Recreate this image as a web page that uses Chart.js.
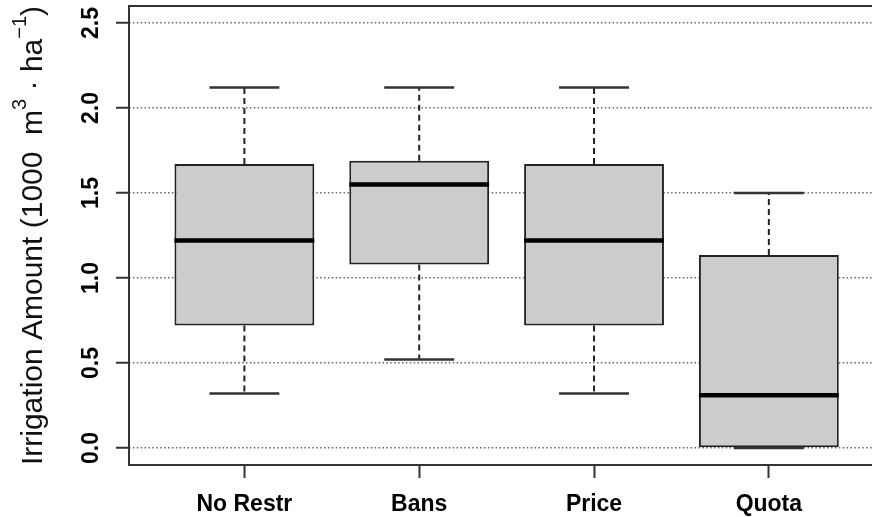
<!DOCTYPE html>
<html>
<head>
<meta charset="utf-8">
<script src="https://cdn.jsdelivr.net/npm/chart.js@4.4.1/dist/chart.umd.min.js"></script>
<style>
html, body { margin: 0; padding: 0; background: #fff; overflow: hidden; }
#wrap { width: 872px; height: 517px; }
</style>
</head>
<body>
<div id="wrap"><canvas id="boxChart" width="872" height="517"></canvas></div>
<script>
"use strict";
// box stats (1000 m3/ha)
var categories = ["No Restr", "Bans", "Price", "Quota"];
var whiskerLow = [0.32, 0.52, 0.32, 0.0];
var q1 = [0.72, 1.08, 0.72, 0.0];
var medians = [1.22, 1.55, 1.22, 0.31];
var q3 = [1.67, 1.69, 1.67, 1.135];
var whiskerHigh = [2.12, 2.12, 2.12, 1.50];
var yTicks = [0, 0.5, 1.0, 1.5, 2.0, 2.5];

Chart.defaults.font.family = '"Liberation Sans", Arial, Helvetica, sans-serif';

var boxData = categories.map(function (c, i) {
    return { x: i + 1, y: [q1[i], q3[i]] };
});

// whiskers, caps and medians on top of the floating bars
var boxExtras = {
    id: "boxExtras",
    afterDatasetsDraw: function (chart) {
        var ctx = chart.ctx;
        var yScale = chart.scales.y;
        var meta = chart.getDatasetMeta(0);
        meta.data.forEach(function (el, i) {
            var x = el.x;
            var w = el.width;
            var yMin = yScale.getPixelForValue(whiskerLow[i]);
            var yQ1 = yScale.getPixelForValue(q1[i]);
            var yMed = yScale.getPixelForValue(medians[i]);
            var yQ3 = yScale.getPixelForValue(q3[i]);
            var yMax = yScale.getPixelForValue(whiskerHigh[i]);
            ctx.save();
            ctx.strokeStyle = "#222";
            ctx.lineWidth = 2;
            ctx.setLineDash([6, 4]);
            ctx.beginPath();
            ctx.moveTo(x, yQ3); ctx.lineTo(x, yMax);
            ctx.moveTo(x, yQ1); ctx.lineTo(x, yMin);
            ctx.stroke();
            ctx.setLineDash([]);
            ctx.strokeStyle = "#333";
            ctx.lineWidth = 2.5;
            ctx.beginPath();
            ctx.moveTo(x - w / 4, yMax); ctx.lineTo(x + w / 4, yMax);
            ctx.moveTo(x - w / 4, yMin); ctx.lineTo(x + w / 4, yMin);
            ctx.stroke();
            ctx.strokeStyle = "#000";
            ctx.lineWidth = 4.5;
            ctx.beginPath();
            ctx.moveTo(x - w / 2, yMed); ctx.lineTo(x + w / 2, yMed);
            ctx.stroke();
            ctx.restore();
        });
    }
};

// plot frame (right side is cut off in the picture) + y title with superscripts
var frameAndTitle = {
    id: "frameAndTitle",
    afterDraw: function (chart) {
        var ctx = chart.ctx;
        var a = chart.chartArea;
        ctx.save();
        ctx.strokeStyle = "#333";
        ctx.lineWidth = 2;
        ctx.beginPath();
        ctx.moveTo(a.right + 2, a.top);
        ctx.lineTo(a.left, a.top);
        ctx.lineTo(a.left, a.bottom);
        ctx.lineTo(a.right + 2, a.bottom);
        ctx.stroke();
        ctx.restore();

        var parts = [
            { t: "Irrigation Amount (1000  m", sup: false },
            { t: "3", sup: true },
            { t: " \u00b7 ha", sup: false },
            { t: "\u22121", sup: true },
            { t: ")", sup: false }
        ];
        var mainFont = '30px "Liberation Sans", Arial, sans-serif';
        var supFont = '20px "Liberation Sans", Arial, sans-serif';
        ctx.save();
        var total = 0;
        parts.forEach(function (p) {
            ctx.font = p.sup ? supFont : mainFont;
            p.w = ctx.measureText(p.t).width;
            total += p.w;
        });
        ctx.translate(42, (a.top + a.bottom) / 2);
        ctx.rotate(-Math.PI / 2);
        ctx.fillStyle = "#111";
        ctx.textBaseline = "alphabetic";
        ctx.textAlign = "left";
        var pos = -total / 2;
        parts.forEach(function (p) {
            ctx.font = p.sup ? supFont : mainFont;
            ctx.fillText(p.t, pos, p.sup ? -16 : 0);
            pos += p.w;
        });
        ctx.restore();
    }
};

var ctx = document.getElementById("boxChart");
var boxChart = new Chart(ctx, {
    type: "bar",
    data: {
        datasets: [{
            data: boxData,
            backgroundColor: "#cccccc",
            borderColor: "#222",
            borderWidth: 2,
            borderSkipped: false,
            categoryPercentage: 1.0,
            barPercentage: 0.8
        }]
    },
    plugins: [boxExtras, frameAndTitle],
    options: {
        responsive: false,
        animation: false,
        layout: { padding: { top: 6, right: 0, left: 0, bottom: 0 } },
        plugins: {
            legend: { display: false },
            tooltip: { enabled: false },
            title: { display: false }
        },
        scales: {
            x: {
                type: "linear",
                min: 0.34,
                max: 4.59,
                offset: false,
                afterBuildTicks: function (s) {
                    s.ticks = categories.map(function (c, i) { return { value: i + 1 }; });
                },
                afterFit: function (s) {
                    s.height = 52;
                    s.paddingLeft = 0;
                    s.paddingRight = 0;
                },
                ticks: {
                    callback: function (v) { return categories[v - 1]; },
                    font: { size: 23, weight: "bold" },
                    color: "#000",
                    padding: 13,
                    maxRotation: 0,
                    autoSkip: false
                },
                grid: {
                    offset: false,
                    drawOnChartArea: false,
                    drawTicks: true,
                    tickLength: 13,
                    tickColor: "#333",
                    tickWidth: 2
                },
                border: { display: false }
            },
            y: {
                min: -0.1,
                max: 2.6,
                afterBuildTicks: function (s) {
                    s.ticks = yTicks.map(function (v) { return { value: v }; });
                },
                afterFit: function (s) {
                    s.width = 129;
                    s.paddingTop = 0;
                    s.paddingBottom = 0;
                },
                ticks: {
                    callback: function (v) { return v.toFixed(1); },
                    font: { size: 23, weight: "bold" },
                    color: "#000",
                    minRotation: 90,
                    maxRotation: 90,
                    crossAlign: "center",
                    padding: 8
                },
                grid: {
                    color: "#666",
                    lineWidth: 1.5,
                    drawTicks: true,
                    tickLength: 13,
                    tickColor: "#333",
                    tickWidth: 2
                },
                border: { display: false, dash: [1.5, 2.4] }
            }
        }
    }
});
</script>
</body>
</html>
